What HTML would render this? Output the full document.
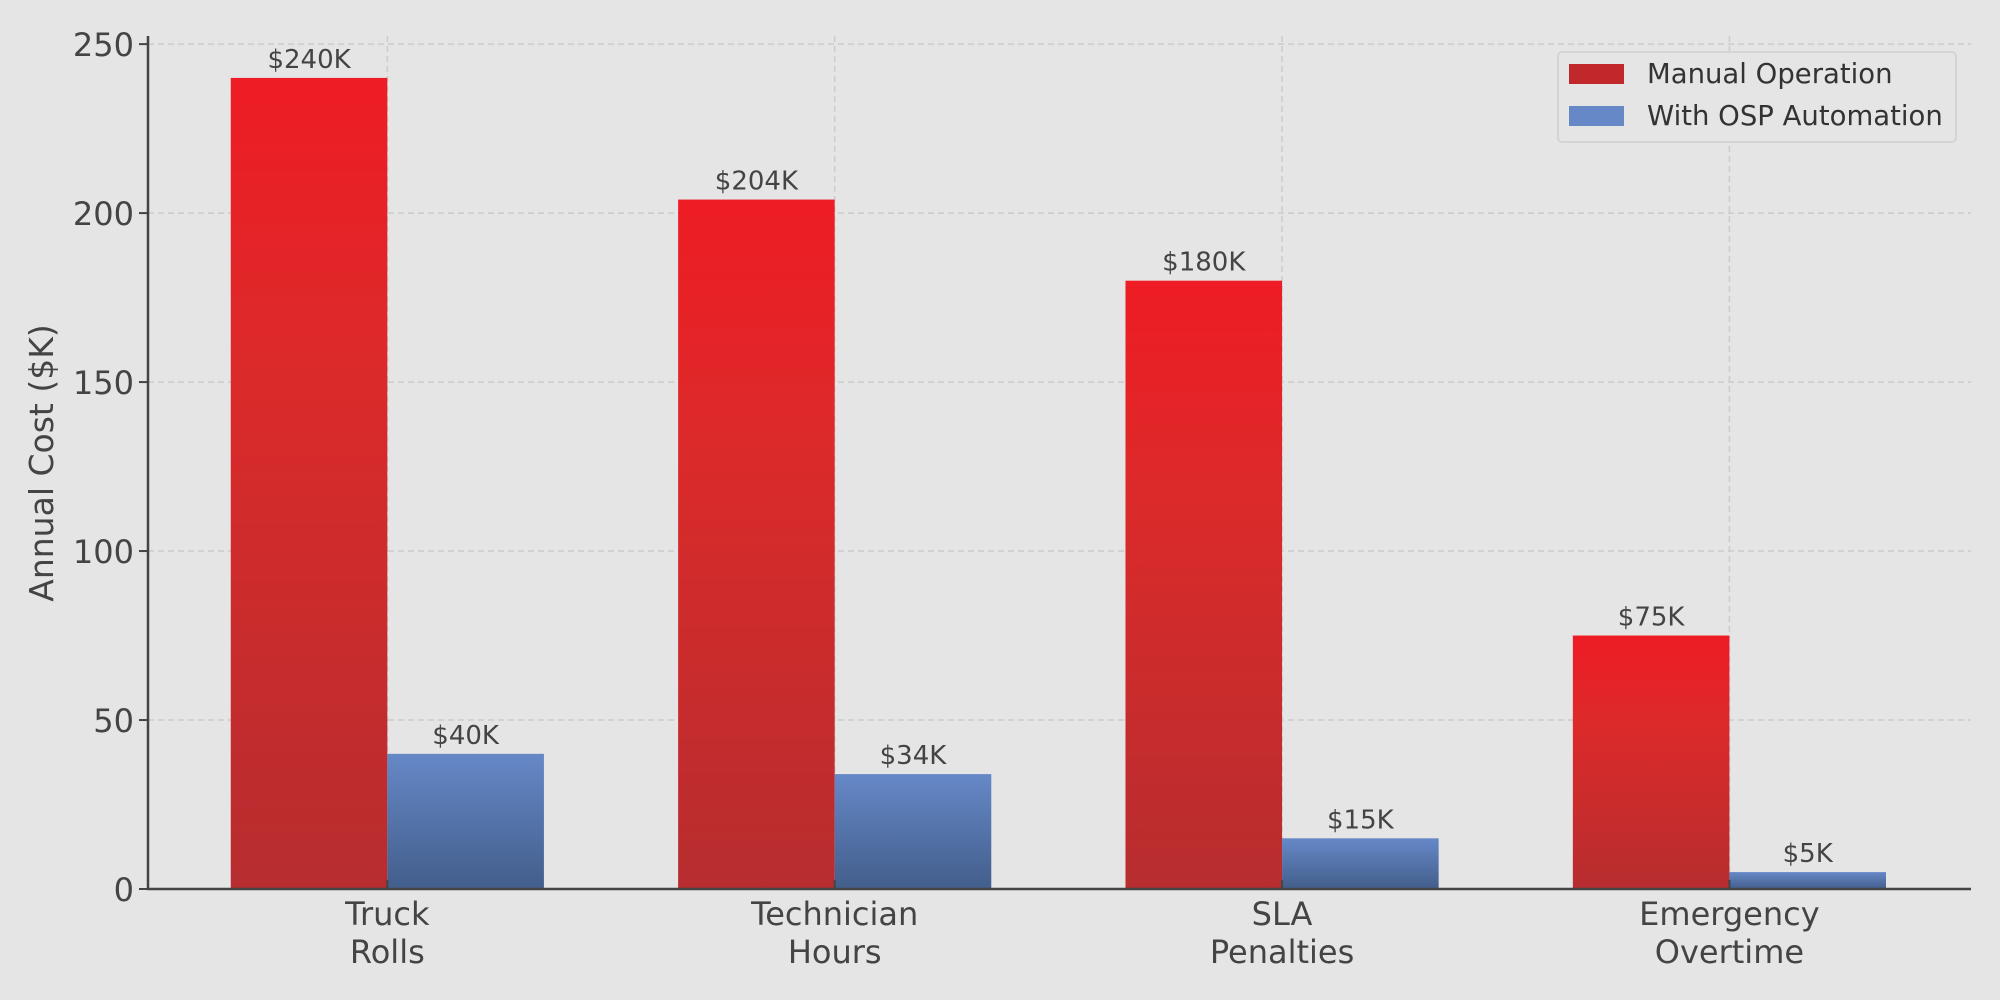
<!DOCTYPE html>
<html><head><meta charset="utf-8"><style>
html,body{margin:0;padding:0;background:#e5e5e5;}
svg{display:block;font-family:"DejaVu Sans","Liberation Sans",sans-serif;}
</style></head><body>
<svg id="chart" width="2000" height="1000" viewBox="0 0 2000 1000">
<defs>
<linearGradient id="gRed" x1="0" y1="0" x2="0" y2="1">
<stop offset="0" stop-color="#ee1c24"/><stop offset="0.35" stop-color="#dc2a2a"/><stop offset="1" stop-color="#b72d2f"/>
</linearGradient>
<linearGradient id="gBlue" x1="0" y1="0" x2="0" y2="1">
<stop offset="0" stop-color="#6688c7"/><stop offset="1" stop-color="#425e8b"/>
</linearGradient>
</defs>
<rect x="0" y="0" width="2000" height="1000" fill="#e5e5e5"/>
<g id="grid"></g>
<g id="bars"></g>
<g id="axes"></g>
<text transform="translate(53,463) rotate(-90)" text-anchor="middle" font-size="33" fill="#444">Annual Cost ($K)</text>
<g>
<rect x="1558" y="52" width="398" height="90" rx="4" fill="#e5e5e5" stroke="#d4d4d4" stroke-width="2"/>
<rect x="1569" y="64" width="55" height="20" fill="#c0282c"/>
<text x="1647" y="83" font-size="27.5" fill="#333">Manual Operation</text>
<rect x="1569" y="106" width="55" height="20" fill="#6688c7"/>
<text x="1647" y="125" font-size="27.5" fill="#333">With OSP Automation</text>
</g>
</svg>
<script>
const categories = [["Truck","Rolls"],["Technician","Hours"],["SLA","Penalties"],["Emergency","Overtime"]];
const manualValues = [240, 204, 180, 75];
const automationValues = [40, 34, 15, 5];
const yTicks = [0, 50, 100, 150, 200, 250];

const NS = "http://www.w3.org/2000/svg";
const L = 148, R = 1971, Y0 = 889, YT = 36;
const xMin = -0.535, xMax = 3.54, yMax = 252.4;
const xs = c => L + (c - xMin) / (xMax - xMin) * (R - L);
const ys = v => Y0 - v / yMax * (Y0 - YT);
const bw = 0.35 * (xs(1) - xs(0));
function mk(tag, attrs, parent, txt) {
  const e = document.createElementNS(NS, tag);
  for (const k in attrs) e.setAttribute(k, attrs[k]);
  if (txt !== undefined) e.textContent = txt;
  parent.appendChild(e);
  return e;
}
const grid = document.getElementById('grid');
const bars = document.getElementById('bars');
const axes = document.getElementById('axes');
yTicks.forEach(t => {
  const g = mk('line', {x1: L, x2: R, y1: ys(t), y2: ys(t), stroke: '#cccccc', 'stroke-width': 1.5, 'stroke-dasharray': '6,4'}, grid);
  
  
  const tk = mk('line', {x1: L - 9, x2: L, y1: ys(t), y2: ys(t), stroke: '#444', 'stroke-width': 2}, axes);
  
  
  const lb = mk('text', {x: L - 14, y: ys(t) + 12, 'text-anchor': 'end', 'font-size': 32, fill: '#444'}, axes, String(t));
  
  
});
categories.forEach((c, i) => {
  const cx = xs(i);
  const gl = mk('line', {x1: cx, x2: cx, y1: YT, y2: Y0, stroke: '#cccccc', 'stroke-width': 1.5, 'stroke-dasharray': '6,4'}, grid);
  
  
  const mv = manualValues[i], av = automationValues[i];
  const r1 = mk('rect', {x: cx - bw, y: ys(mv), width: bw, height: Y0 - ys(mv), fill: 'url(#gRed)'}, bars);
  
  
  const r2 = mk('rect', {x: cx, y: ys(av), width: bw, height: Y0 - ys(av), fill: 'url(#gBlue)'}, bars);
  
  
  const t1 = mk('text', {x: cx - bw / 2, y: ys(mv) - 10, 'text-anchor': 'middle', 'font-size': 26, fill: '#444'}, bars, '$' + mv + 'K');
  
  
  const t2 = mk('text', {x: cx + bw / 2, y: ys(av) - 10, 'text-anchor': 'middle', 'font-size': 26, fill: '#444'}, bars, '$' + av + 'K');
  
  
  const xt = mk('line', {x1: cx, x2: cx, y1: Y0, y2: Y0 - 9, stroke: '#444', 'stroke-width': 2}, axes);
  
  
  c.forEach((line, j) => {
    const cl = mk('text', {x: cx, y: 925 + j * 38, 'text-anchor': 'middle', 'font-size': 32, fill: '#444'}, axes, line);
    
    
  });
});
const ya = mk('line', {x1: L, x2: L, y1: YT, y2: Y0 + 1, stroke: '#444', 'stroke-width': 2.5}, axes);


const xa = mk('line', {x1: L - 1, x2: R, y1: Y0, y2: Y0, stroke: '#444', 'stroke-width': 2.5}, axes);


</script>
</body></html>
